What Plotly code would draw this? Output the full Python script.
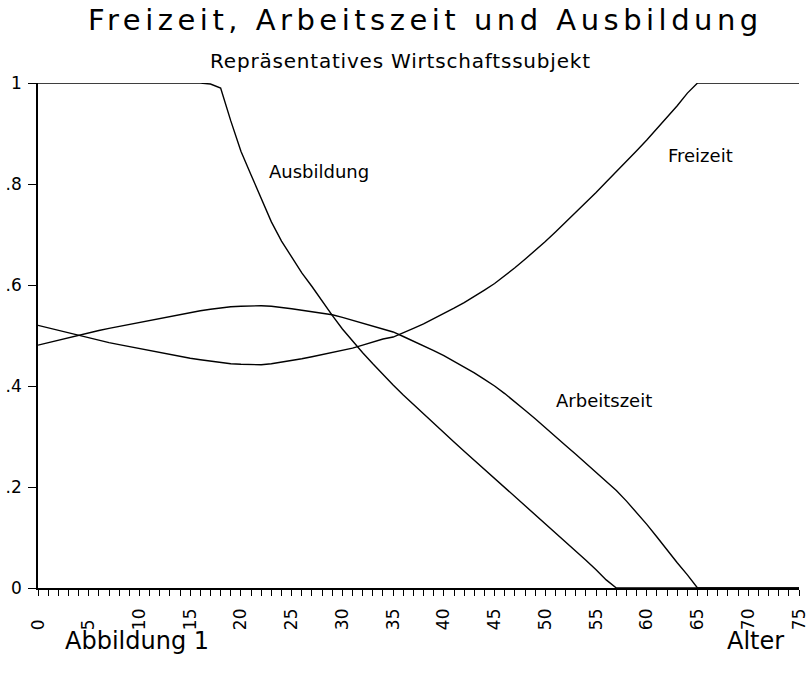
import plotly.graph_objects as go

ages = list(range(0, 76))

ausbildung = [1.0] * 17 + [
    0.998, 0.990, 0.925, 0.865, 0.818, 0.770, 0.725, 0.687, 0.655, 0.624,
    0.597, 0.568, 0.540, 0.513, 0.489, 0.466, 0.444, 0.422, 0.402, 0.382,
    0.363, 0.344, 0.325, 0.307, 0.289, 0.271, 0.253, 0.236, 0.218, 0.200,
    0.182, 0.164, 0.146, 0.128, 0.110, 0.092, 0.073, 0.055, 0.036, 0.016,
    0.0] + [0.0] * 18

arbeitszeit = [
    0.481, 0.486, 0.491, 0.496, 0.501, 0.506, 0.510, 0.514, 0.518, 0.522,
    0.526, 0.529, 0.533, 0.537, 0.541, 0.545, 0.549, 0.552, 0.555, 0.557,
    0.558, 0.559, 0.559, 0.558, 0.556, 0.553, 0.550, 0.547, 0.544, 0.541,
    0.536, 0.530, 0.524, 0.518, 0.512, 0.507, 0.498, 0.489, 0.480, 0.470,
    0.460, 0.449, 0.438, 0.426, 0.413, 0.400, 0.385, 0.369, 0.352, 0.335,
    0.317, 0.300, 0.282, 0.265, 0.247, 0.229, 0.211, 0.193, 0.172, 0.150,
    0.126, 0.101, 0.075, 0.050, 0.026, 0.0] + [0.0] * 10

freizeit = [
    0.520, 0.515, 0.510, 0.505, 0.500, 0.495, 0.490, 0.486, 0.482, 0.478,
    0.474, 0.471, 0.467, 0.463, 0.459, 0.455, 0.452, 0.449, 0.446, 0.444,
    0.443, 0.442, 0.442, 0.444, 0.447, 0.450, 0.454, 0.458, 0.462, 0.467,
    0.470, 0.475, 0.481, 0.487, 0.493, 0.497, 0.505, 0.514, 0.523, 0.533,
    0.543, 0.554, 0.565, 0.577, 0.590, 0.603, 0.618, 0.634, 0.651, 0.668,
    0.686, 0.705, 0.724, 0.744, 0.764, 0.783, 0.804, 0.824, 0.845, 0.866,
    0.887, 0.909, 0.932, 0.955, 0.980, 1.0] + [1.0] * 10

xtick_vals = list(range(0, 80, 5))
xtick_text = [str(v) + ("\u2007" if v < 10 else "") for v in xtick_vals]
ytick_vals = [0, 0.2, 0.4, 0.6, 0.8, 1.0]
ytick_text = ["0", ".2", ".4", ".6", ".8", "1"]

FONT = "DejaVu Sans"

fig = go.Figure()
for series in (ausbildung, arbeitszeit, freizeit):
    fig.add_trace(go.Scatter(x=ages, y=series, mode="lines",
                             line=dict(color="black", width=1.4),
                             showlegend=False, hoverinfo="skip"))

fig.update_layout(
    width=809, height=673,
    margin=dict(l=38, r=10, t=83, b=85, autoexpand=False),
    paper_bgcolor="white", plot_bgcolor="white",
    font=dict(family=FONT, color="black"),
)
fig.update_xaxes(
    range=[0, 75], showgrid=False, zeroline=False, automargin=False,
    showline=True, linecolor="black", linewidth=1.5,
    tickmode="array", tickvals=xtick_vals, ticktext=xtick_text,
    ticks="outside", ticklen=6, tickwidth=1.2, tickcolor="black",
    tickangle=-90, tickfont=dict(size=17, family=FONT),
    ticklabelstandoff=6,
    minor=dict(dtick=1, ticks="outside", ticklen=6, tickwidth=1.2,
               tickcolor="black", showgrid=False),
)
fig.update_yaxes(
    range=[0, 1], showgrid=False, zeroline=False, automargin=False,
    showline=True, linecolor="black", linewidth=1.5,
    tickmode="array", tickvals=ytick_vals, ticktext=ytick_text,
    ticks="outside", ticklen=8, tickwidth=1.2, tickcolor="black",
    tickfont=dict(size=17, family=FONT), ticklabelstandoff=3,
)

def spaced(text, px):
    return f'<span style="letter-spacing:{px}px">{text}</span>'

annotations = [
    dict(text=spaced("Freizeit, Arbeitszeit und Ausbildung", 4.5), xref="paper", yref="paper",
         x=(425 - 38) / 761, y=(588 - 20) / 505, size=29),
    dict(text=spaced("Repräsentatives Wirtschaftssubjekt", 0.8), xref="paper", yref="paper",
         x=(400 - 38) / 761, y=(588 - 61) / 505, size=20),
    dict(text="Ausbildung", xref="x", yref="y", x=27.7, y=0.824, size=18),
    dict(text="Freizeit", xref="x", yref="y", x=65.3, y=0.857, size=18),
    dict(text="Arbeitszeit", xref="x", yref="y", x=55.8, y=0.372, size=18),
    dict(text="Abbildung 1", xref="paper", yref="paper",
         x=(137 - 38) / 761, y=(588 - 641) / 505, size=24),
    dict(text="Alter", xref="paper", yref="paper",
         x=(755 - 38) / 761, y=(588 - 641) / 505, size=24),
]
for a in annotations:
    size = a.pop("size")
    a.update(showarrow=False, xanchor="center", yanchor="middle",
             font=dict(family=FONT, color="black", size=size))
fig.update_layout(annotations=annotations)

fig.write_html("out.html", config={"displayModeBar": False},
               post_script="document.body.style.margin='0px';document.body.style.overflow='hidden';")
